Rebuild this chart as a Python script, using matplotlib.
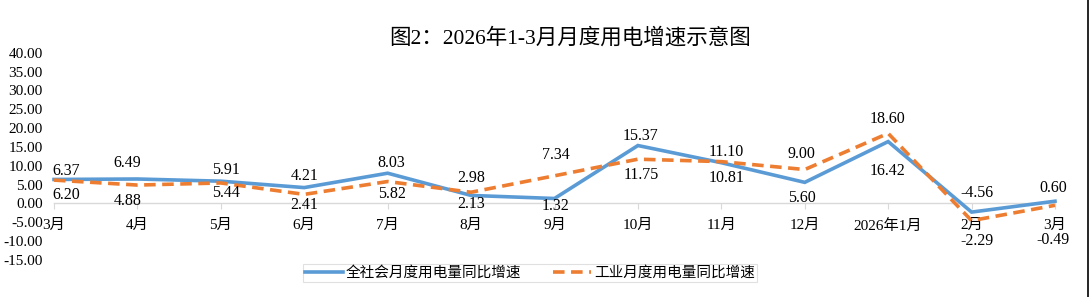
import matplotlib
matplotlib.use("Agg")
import matplotlib.pyplot as plt
from matplotlib.lines import Line2D

categories = ["3月", "4月", "5月", "6月", "7月", "8月", "9月", "10月", "11月", "12月",
              "2026年1月", "2月", "3月"]
total_growth = [6.37, 6.49, 5.91, 4.21, 8.03, 2.13, 1.32, 15.37, 10.81, 5.60, 16.42, -2.29, 0.60]
industry_growth = [6.20, 4.88, 5.44, 2.41, 5.82, 2.98, 7.34, 11.75, 11.10, 9.00, 18.60, -4.56, -0.49]
series_names = ["全社会月度用电量同比增速", "工业月度用电量同比增速"]
title = "图2：2026年1-3月月度用电增速示意图"
yticks = [-15, -10, -5, 0, 5, 10, 15, 20, 25, 30, 35, 40]

# data-label offsets in pixels (style only): negative = above the point
total_dy = [-8, -16, -11, -12, -10, 8.5, 7.5, -9.6, 15.6, 16, 29, 29, -13]
industry_dy = [15, 15.6, 10, 11, 12.7, -14, -21, 16, -10, -16, -14, -28, 35]
label_dx = [12, -10, 5, 0, 4, 0, 1, 3, 5, -3, -1, 5, -2]

FAM = ["Liberation Serif", "Noto Sans CJK SC"]
plt.rcParams["font.family"] = FAM

BLUE = "#5B9BD5"
ORANGE = "#ED7D31"
PX = 72 / 100  # points per pixel at dpi 100

fig = plt.figure(figsize=(10.9, 2.97), dpi=100)
ax = fig.add_axes([54 / 1090, 1 - 260 / 297, 1001 / 1090, (260 - 52.7) / 297])

x = list(range(len(categories)))
ax.plot(x, total_growth, color=BLUE, lw=2.6, solid_joinstyle="miter", clip_on=False, zorder=3)
ax.plot(x, industry_growth, color=ORANGE, lw=2.6, ls=(0, (3.2, 1.8)), clip_on=False, zorder=4)

ax.set_xlim(0, len(categories) - 1)
ax.set_ylim(-15, 40)
ax.set_yticks(yticks)
ax.set_yticklabels([f"{v:.2f}" for v in yticks], fontsize=11)
ax.tick_params(axis="y", length=0, pad=8)

for s in ["top", "right", "left"]:
    ax.spines[s].set_visible(False)
ax.spines["bottom"].set_position(("data", 0))
ax.spines["bottom"].set_color("#D9D9D9")
ax.spines["bottom"].set_linewidth(1.0)
ax.set_xticks(x)
ax.set_xticklabels(categories, fontsize=11)
ax.tick_params(axis="x", length=4, color="#D9D9D9", pad=7)

def labels(vals, dys):
    for i, (v, dy) in enumerate(zip(vals, dys)):
        ax.annotate(f"{v:.2f}", (i, v), xytext=(label_dx[i] * PX, -dy * PX),
                    textcoords="offset points", ha="center", va="center",
                    fontsize=11.5, zorder=5, annotation_clip=False)

labels(total_growth, total_dy)
labels(industry_growth, industry_dy)

fig.text(570 / 1090, 1 - 38 / 297, title, ha="center", va="center", fontsize=15.5)

handles = [Line2D([], [], color=BLUE, lw=2.6),
           Line2D([], [], color=ORANGE, lw=2.6, ls=(0, (3.2, 1.8)))]
leg = fig.legend(handles, series_names, loc="center", bbox_to_anchor=(530 / 1090, 1 - 273 / 297),
                 ncol=2, fontsize=10.5, frameon=True, fancybox=False, edgecolor="#D9D9D9",
                 handlelength=2.6, handletextpad=0.2, columnspacing=2.2,
                 borderpad=0.15)
leg.get_frame().set_linewidth(0.8)

fig.add_artist(Line2D([1087.5 / 1090, 1087.5 / 1090], [0, 1], transform=fig.transFigure,
                      color="black", lw=1.2))

fig.savefig("out.png", dpi=100)
